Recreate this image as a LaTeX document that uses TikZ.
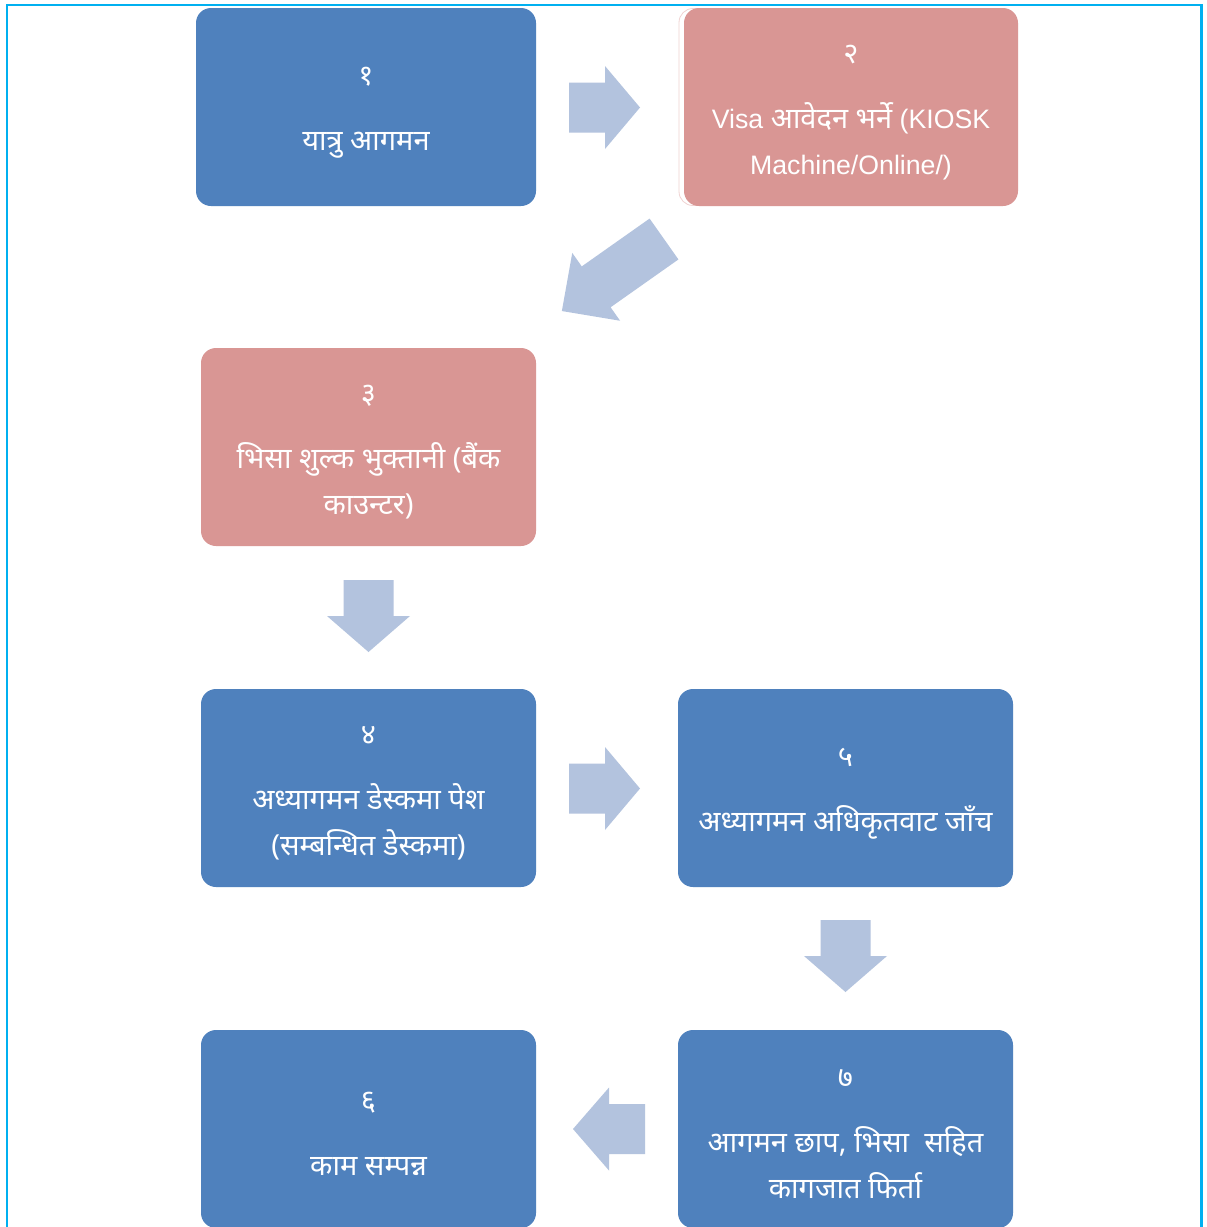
\documentclass[tikz,border=0pt]{standalone}
\usepackage{fontspec}
\newfontfamily\deva[Script=Devanagari]{Noto Sans}
\newfontfamily\latn{Liberation Sans}
\definecolor{boxblue}{HTML}{4F81BD}
\definecolor{boxpink}{HTML}{D99694}
\definecolor{arrowcol}{HTML}{B3C3DE}
\definecolor{framecol}{HTML}{00B0F0}
\definecolor{pinkfaint}{HTML}{F0D2D1}
\tikzset{
  stepbox/.style={rounded corners=15pt, inner sep=0pt, text=white, align=center,
    minimum height=198pt, font=\deva\fontsize{29}{46}\selectfont},
  bluebox/.style={stepbox, fill=boxblue},
  pinkbox/.style={stepbox, fill=boxpink},
  pics/blockarrow/.style args={#1/#2}{code={
    \fill[arrowcol] (0,-25) -- (#1,-25) -- (#1,-41.5) -- (#1+#2,0) -- (#1,41.5) -- (#1,25) -- (0,25) -- cycle;}}
}
\newcommand{\lt}[1]{{\latn\fontsize{26.7}{46}\selectfont #1}}
\newcommand{\stepnum}[1]{\raisebox{0pt}[\dimexpr\height+11pt\relax]{#1}}
\begin{document}
\begin{tikzpicture}[x=1pt,y=-1pt]
\clip (0,0) rectangle (1207,1227);
\fill[white] (0,0) rectangle (1207,1227);
\draw[framecol, line width=2.5pt] (7,1240) -- (7,5) -- (1201.5,5) -- (1201.5,1240);

\draw[pinkfaint, line width=0.8pt, rounded corners=14pt] (720,8.5) -- (679,8.5) -- (679,205.5) -- (720,205.5);

\node[bluebox, minimum width=340pt] (b1) at (366,107) {\stepnum{१}\\[19pt]यात्रु आगमन};
\node[pinkbox, minimum width=334pt] (b2) at (851,107) {\stepnum{२}\\[19pt]\lt{Visa} आवेदन भर्ने \lt{(KIOSK}\\\lt{Machine/Online/)}};
\node[pinkbox, minimum width=335pt] (b3) at (368.5,447) {\stepnum{३}\\[19pt]भिसा शुल्क भुक्तानी (बैंक\\काउन्टर)};
\node[bluebox, minimum width=335pt] (b4) at (368.5,788) {\stepnum{४}\\[19pt]अध्यागमन डेस्कमा पेश\\(सम्बन्धित डेस्कमा)};
\node[bluebox, minimum width=335pt] (b5) at (845.5,788) {\stepnum{५}\\[19pt]अध्यागमन अधिकृतवाट जाँच};
\node[bluebox, minimum width=335pt] (b6) at (368.5,1129) {\stepnum{६}\\[19pt]काम सम्पन्न};
\node[bluebox, minimum width=335pt] (b7) at (845.5,1129) {\stepnum{७}\\[19pt]आगमन छाप, भिसा\ \ सहित\\कागजात फिर्ता};

\pic at (569,107.5) {blockarrow=36/35};
\pic[rotate=215.2] at (664,239) {blockarrow=83/42};
\pic[rotate=-90] at (368.5,580) {blockarrow=36/36};
\pic at (569,788.5) {blockarrow=36/35};
\pic[rotate=-90] at (845.5,920) {blockarrow=36/36};
\pic[rotate=180] at (645,1129) {blockarrow=36/36};
\end{tikzpicture}
\end{document}
